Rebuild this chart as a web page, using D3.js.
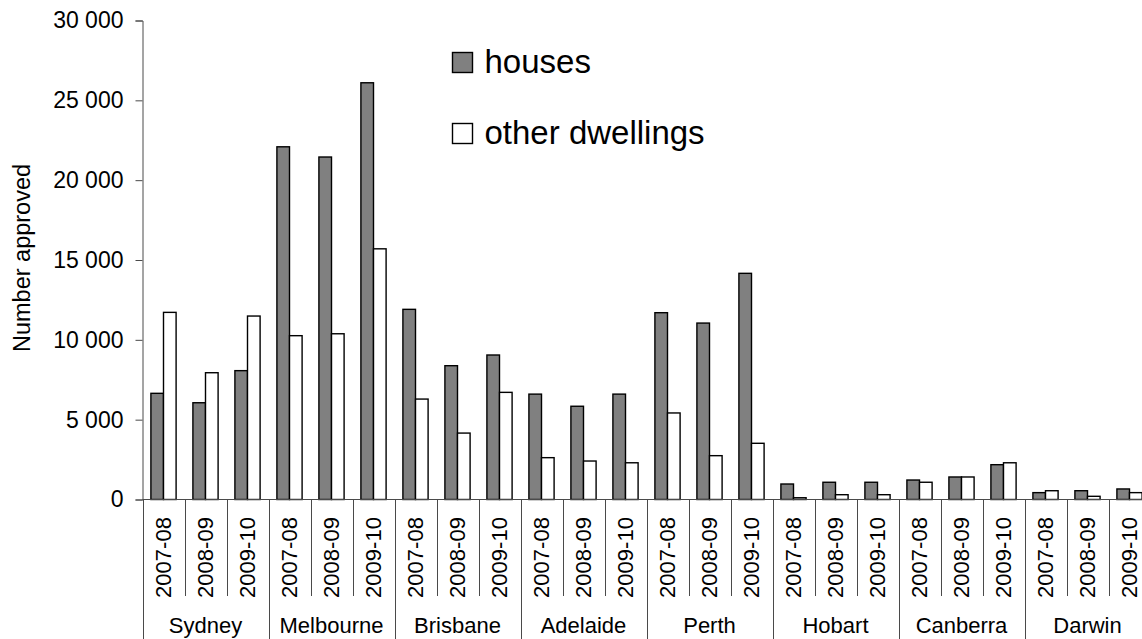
<!DOCTYPE html>
<html>
<head>
<meta charset="utf-8">
<script src="https://cdn.jsdelivr.net/npm/d3@7"></script>
<style>
  html, body { margin: 0; padding: 0; background: #fff; }
  svg { display: block; font-family: "Liberation Sans", Arial, sans-serif; }
</style>
</head>
<body>
<svg id="chart" width="1142" height="639"></svg>
<script>
// Building approvals by capital city and financial year
const cities = ["Sydney", "Melbourne", "Brisbane", "Adelaide", "Perth", "Hobart", "Canberra", "Darwin"];
const years = ["2007-08", "2008-09", "2009-10"];
const seriesNames = ["houses", "other dwellings"];

// one value per city × year, in city order then year order
const houses = [
  6650, 6060, 8070,
  22090, 21450, 26100,
  11910, 8380, 9050,
  6600, 5840, 6600,
  11700, 11050, 14165,
  970, 1080, 1080,
  1220, 1410, 2180,
  430, 550, 660
];
const otherDwellings = [
  11720, 7940, 11490,
  10260, 10380, 15700,
  6290, 4160, 6710,
  2620, 2410, 2300,
  5420, 2745, 3520,
  110, 300, 300,
  1080, 1410, 2300,
  550, 200, 430
];
const yTicks = [0, 5000, 10000, 15000, 20000, 25000, 30000];

const colors = { "houses": "#808080", "other dwellings": "#ffffff" };

const svg = d3.select("#chart");
const axisColor = "#4a4a4a";
const fontSize = 22;

const x0 = 142.5, yBase = 499.5, yTop = 20.5;
const groupW = 126;

const y = d3.scaleLinear().domain([0, 30000]).range([yBase, yTop]);
const xCity = d3.scaleBand().domain(cities).range([x0, x0 + groupW * cities.length]);
const xYear = d3.scaleBand().domain(years).range([0, xCity.bandwidth()]);
const xSeries = d3.scaleBand().domain(seriesNames)
  .range([xYear.bandwidth() * 0.2, xYear.bandwidth() * 0.8]);

const records = [];
cities.forEach((c, ci) => years.forEach((yr, yi) => {
  const i = ci * years.length + yi;
  records.push({ city: c, year: yr, series: "houses", value: houses[i] });
  records.push({ city: c, year: yr, series: "other dwellings", value: otherDwellings[i] });
}));

// bars
svg.append("g").selectAll("rect")
  .data(records)
  .join("rect")
  .attr("x", d => xCity(d.city) + xYear(d.year) + xSeries(d.series))
  .attr("y", d => y(d.value))
  .attr("width", xSeries.bandwidth())
  .attr("height", d => yBase - y(d.value))
  .attr("fill", d => colors[d.series])
  .attr("stroke", "#000")
  .attr("stroke-width", 1.4);

// y axis
const yAxis = d3.axisLeft(y).tickValues(yTicks).tickSizeOuter(0).tickSize(7).tickPadding(12)
  .tickFormat(d => d3.format(",")(d).replace(/,/g, " "));
const gy = svg.append("g").attr("transform", `translate(${x0},0)`).call(yAxis);
gy.attr("font-size", 23).attr("font-family", "Liberation Sans, Arial, sans-serif");
gy.select(".domain").attr("stroke", axisColor);
gy.selectAll(".tick line").attr("stroke", axisColor);
gy.selectAll(".tick text").attr("font-size", 23).attr("fill", "#000");

// axis title
svg.append("text")
  .attr("transform", `translate(30,258) rotate(-90)`)
  .attr("text-anchor", "middle")
  .attr("font-size", 23.5)
  .text("Number approved");

// x axis line
svg.append("line")
  .attr("x1", x0).attr("x2", 1142)
  .attr("y1", yBase).attr("y2", yBase)
  .attr("stroke", axisColor);

// year dividers (short) and city dividers (long)
const boundaries = [];
cities.forEach(c => years.forEach((yr, yi) => {
  const xb = Math.round(xCity(c) + xYear(yr)) + 0.5;
  boundaries.push({ x: xb, major: yi === 0 });
}));
boundaries.push({ x: Math.round(xCity.range()[1]) + 0.5, major: true });

svg.append("g").selectAll("line")
  .data(boundaries)
  .join("line")
  .attr("x1", d => d.x).attr("x2", d => d.x)
  .attr("y1", yBase).attr("y2", d => d.major ? 639 : 596)
  .attr("stroke", axisColor);

// year labels
const yearLabels = [];
cities.forEach(c => years.forEach(yr => yearLabels.push({ city: c, year: yr })));
svg.append("g").selectAll("text")
  .data(yearLabels)
  .join("text")
  .attr("transform", d => `translate(${xCity(d.city) + xYear(d.year) + xYear.bandwidth() / 2 + 7.5},557.5) rotate(-90)`)
  .attr("text-anchor", "middle")
  .attr("font-size", fontSize)
  .text(d => d.year);

// city labels
svg.append("g").selectAll("text")
  .data(cities)
  .join("text")
  .attr("x", d => xCity(d) + xCity.bandwidth() / 2)
  .attr("y", 633)
  .attr("text-anchor", "middle")
  .attr("font-size", fontSize)
  .text(d => d);

// legend
const legend = svg.append("g").selectAll("g")
  .data(seriesNames)
  .join("g")
  .attr("transform", (d, i) => `translate(452.5,${52.5 + i * 71})`);
legend.append("rect")
  .attr("width", 20).attr("height", 20)
  .attr("fill", d => colors[d])
  .attr("stroke", "#000").attr("stroke-width", 1.4);
legend.append("text")
  .attr("x", 32).attr("y", 20)
  .attr("font-size", 33)
  .text(d => d);
</script>
</body>
</html>
